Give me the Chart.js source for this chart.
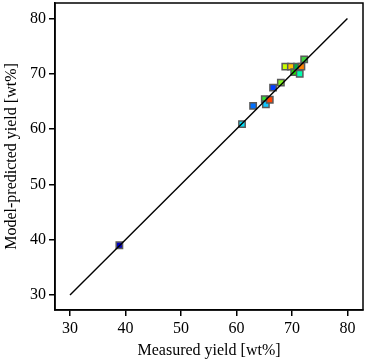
<!DOCTYPE html>
<html>
<head>
<meta charset="utf-8">
<script src="https://cdn.jsdelivr.net/npm/chart.js@4/dist/chart.umd.min.js"></script>
<style>
  html,body{margin:0;padding:0;background:#fff;}
  #wrap{width:365px;height:362px;}
</style>
</head>
<body>
<div id="wrap"><canvas id="c" width="365" height="362"></canvas></div>
<script>
// measured vs predicted yield, wt%
const measured  = [38.9, 61.0, 63.0, 65.1, 65.3, 66.0, 66.6, 68.0, 68.8, 69.8, 70.4, 70.9, 71.4, 71.7, 72.2];
const predicted = [39.0, 60.9, 64.2, 65.4, 64.5, 65.3, 67.5, 68.4, 71.3, 71.3, 70.3, 71.3, 70.0, 71.3, 72.6];
const pointColors = ["#0000c8","#00e4ff","#0070ff","#30e030","#10c8ff","#ff4000","#0040ff","#80f020",
                     "#c8ff00","#ffc000","#20e000","#00b040","#00ffb0","#ff8000","#40d040"];
const parityLine = [30, 80];
const tickVals = [30, 40, 50, 60, 70, 80];

const font = {family:"'Liberation Serif','Times New Roman',serif", size:16};

// box around plot area
const frame = {
  id:"frame",
  afterDraw(chart){
    const a = chart.chartArea, g = chart.ctx;
    g.save();
    g.strokeStyle = "#000"; g.lineWidth = 1.5;
    g.strokeRect(a.left, a.top, a.right - a.left, a.bottom - a.top);
    g.restore();
  }
};

const axis = (title, size) => ({
  type:"linear", min:27.3, max:82.8,
  afterBuildTicks: s => { s.ticks = tickVals.map(v => ({value:v})); },
  // fixed axis band so the plot box lands where the original has it
  afterFit: s => {
    s.paddingTop = 0; s.paddingBottom = 0; s.paddingLeft = 0; s.paddingRight = 0;
    if (s.isHorizontal()) s.height = size; else s.width = size;
  },
  ticks:{ color:"#000", font:font, padding:3, autoSkip:false },
  grid:{ display:true, drawOnChartArea:false, drawTicks:true, tickLength:6, color:"#000", lineWidth:1.5 },
  border:{ display:true, color:"#000", width:1.5 },
  title:{ display:true, text:title, color:"#000", font:font, padding:{top:2,bottom:2} }
});

new Chart(document.getElementById("c"), {
  data:{
    datasets:[
      {
        type:"line",
        data: parityLine.map(v => ({x:v, y:v})),
        borderColor:"#000", borderWidth:1.4, pointRadius:0, order:0
      },
      {
        type:"scatter",
        data: measured.map((m,i) => ({x:m, y:predicted[i]})),
        pointStyle:"rect", pointRadius:4.5,
        backgroundColor: pointColors,
        borderColor:"#5a5a5a", borderWidth:1.5, order:1
      }
    ]
  },
  options:{
    responsive:false, animation:false,
    layout:{ autoPadding:false, padding:{ top:3, right:2, left:0, bottom:0 } },
    plugins:{ legend:{display:false}, tooltip:{enabled:false} },
    scales:{
      x: axis("Measured yield [wt%]", 52),
      y: axis("Model-predicted yield [wt%]", 55)
    }
  },
  plugins:[frame]
});
</script>
</body>
</html>
